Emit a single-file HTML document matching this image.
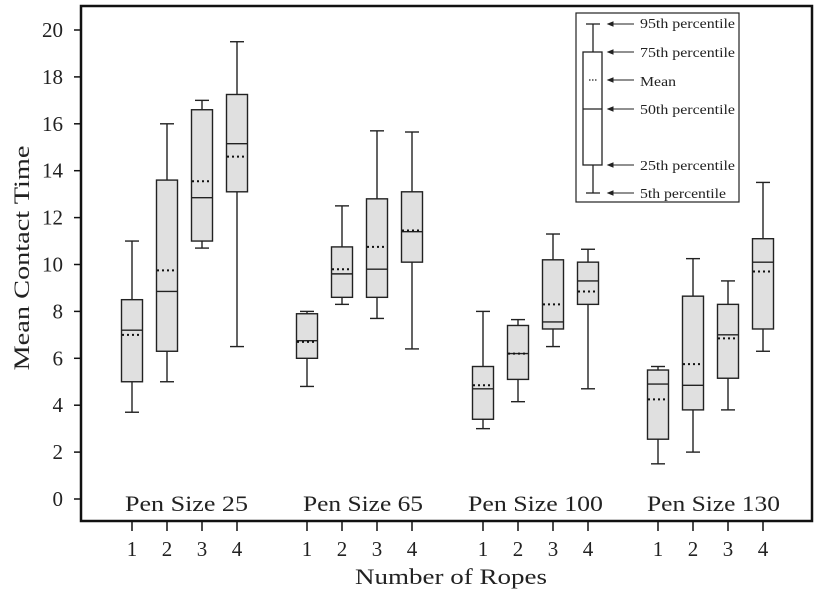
<!DOCTYPE html>
<html><head><meta charset="utf-8"><style>body{margin:0;background:#fff}svg{display:block}text{font-family:"Liberation Serif",serif;fill:#222}</style></head>
<body>
<svg id="s" width="820" height="595" xmlns="http://www.w3.org/2000/svg">
<rect x="81" y="6" width="731" height="515" fill="none" stroke="#111" stroke-width="2.5"/>
<text x="355" y="584" font-size="22" textLength="192" lengthAdjust="spacingAndGlyphs">Number of Ropes</text>
<text transform="translate(29,258) rotate(-90)" font-size="22" text-anchor="middle" textLength="225" lengthAdjust="spacingAndGlyphs">Mean Contact Time</text>
<text x="125" y="511" font-size="22" textLength="123" lengthAdjust="spacingAndGlyphs">Pen Size 25</text>
<text x="303" y="511" font-size="22" textLength="120" lengthAdjust="spacingAndGlyphs">Pen Size 65</text>
<text x="468" y="511" font-size="22" textLength="135" lengthAdjust="spacingAndGlyphs">Pen Size 100</text>
<text x="647" y="511" font-size="22" textLength="133" lengthAdjust="spacingAndGlyphs">Pen Size 130</text>
<g id="g"></g>
<rect x="576" y="13" width="163" height="189" fill="#fff" stroke="#222" stroke-width="1.2"/>
<g stroke="#222" stroke-width="1.3" fill="none">
<line x1="586" y1="24" x2="600" y2="24"/><line x1="593" y1="24" x2="593" y2="52"/>
<rect x="583" y="52" width="19" height="113"/><line x1="583" y1="109" x2="602" y2="109"/>
<line x1="593" y1="165" x2="593" y2="193"/><line x1="586" y1="193" x2="600" y2="193"/>
<line x1="589" y1="80" x2="597" y2="80" stroke-dasharray="1.5,1.5"/>
</g>
<g stroke="#222" stroke-width="1" id="arr"></g>
<g font-size="13.5">
<text x="640" y="28" textLength="95" lengthAdjust="spacingAndGlyphs">95th percentile</text>
<text x="640" y="57" textLength="95" lengthAdjust="spacingAndGlyphs">75th percentile</text>
<text x="640" y="86" textLength="36" lengthAdjust="spacingAndGlyphs">Mean</text>
<text x="640" y="114" textLength="95" lengthAdjust="spacingAndGlyphs">50th percentile</text>
<text x="640" y="170" textLength="95" lengthAdjust="spacingAndGlyphs">25th percentile</text>
<text x="640" y="198" textLength="86" lengthAdjust="spacingAndGlyphs">5th percentile</text>
</g>
</svg>
<script>
var NS="http://www.w3.org/2000/svg",g=document.getElementById('g');
function el(t,a,p){var e=document.createElementNS(NS,t);for(var k in a)e.setAttribute(k,a[k]);(p||g).appendChild(e);return e;}
function Y(v){return 499-23.45*v;}
for(var v=0;v<=20;v+=2){var y=Y(v);el('line',{x1:74,y1:y,x2:81,y2:y,stroke:'#111','stroke-width':1.5});var t=el('text',{x:63,y:y+7,'font-size':21,'text-anchor':'end'});t.textContent=v;}
var xs=[132,167,202,237,307,342,377,412,483,518,553,588,658,693,728,763];
var d=[[3.7,11,5,8.5,7.2,7.0],[5,16,6.3,13.6,8.85,9.75],[10.7,17,11,16.6,12.85,13.55],[6.5,19.5,13.1,17.25,15.15,14.6],
[4.8,8.0,6,7.9,6.75,6.7],[8.3,12.5,8.6,10.75,9.6,9.8],[7.7,15.7,8.6,12.8,9.8,10.75],[6.4,15.65,10.1,13.1,11.4,11.45],
[3,8,3.4,5.65,4.7,4.85],[4.15,7.65,5.1,7.4,6.2,6.2],[6.5,11.3,7.25,10.2,7.55,8.3],[4.7,10.65,8.3,10.1,9.3,8.85],
[1.5,5.65,2.55,5.5,4.9,4.25],[2.0,10.25,3.8,8.65,4.85,5.75],[3.8,9.3,5.15,8.3,7.0,6.85],[6.3,13.5,7.25,11.1,10.1,9.7]];
xs.forEach(function(x,i){var q=d[i],s={stroke:'#222','stroke-width':1.4};
el('line',{x1:x,y1:521,x2:x,y2:531,stroke:'#111','stroke-width':1.5});
var t=el('text',{x:x,y:556,'font-size':21,'text-anchor':'middle'});t.textContent=(i%4)+1;
el('line',Object.assign({x1:x,y1:Y(q[0]),x2:x,y2:Y(q[1])},s));
el('line',Object.assign({x1:x-7,y1:Y(q[0]),x2:x+7,y2:Y(q[0])},s));
el('line',Object.assign({x1:x-7,y1:Y(q[1]),x2:x+7,y2:Y(q[1])},s));
el('rect',Object.assign({x:x-10.5,y:Y(q[3]),width:21,height:Y(q[2])-Y(q[3]),fill:'#e0e0e0'},s));
el('line',Object.assign({x1:x-10.5,y1:Y(q[4]),x2:x+10.5,y2:Y(q[4])},s));
el('line',{x1:x-10,y1:Y(q[5]),x2:x+10,y2:Y(q[5]),stroke:'#111','stroke-width':2,'stroke-dasharray':'2,3'});
});
var a=document.getElementById('arr');
[24,52,80,109,165,193].forEach(function(y){el('line',{x1:608,y1:y,x2:634,y2:y},a);el('path',{d:'M608 '+y+' l5 -2 v4z',fill:'#222'},a);});
</script>
</body></html>
